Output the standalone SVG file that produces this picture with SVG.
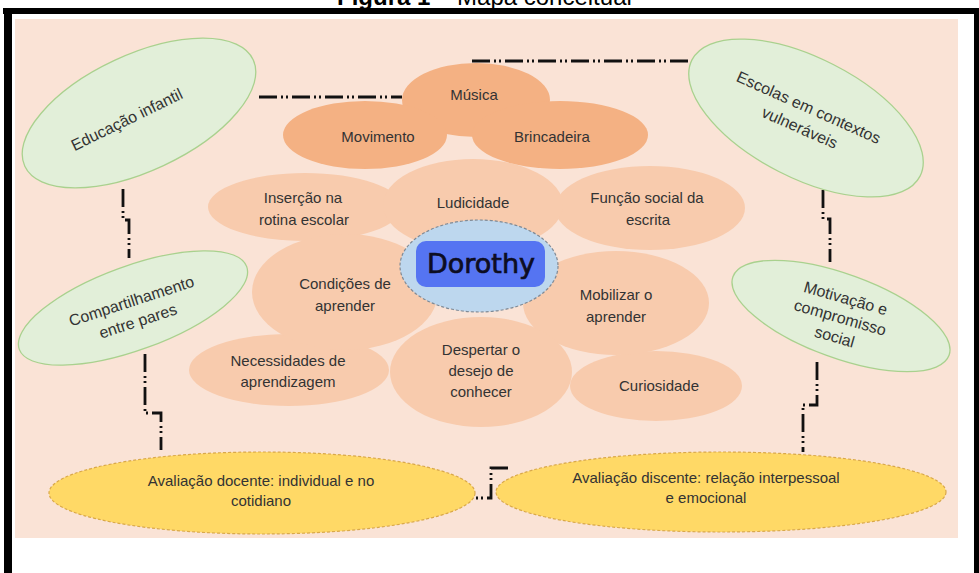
<svg xmlns="http://www.w3.org/2000/svg" width="979" height="573" viewBox="0 0 979 573">
<style>
  .t{font-family:"Liberation Sans",Arial,sans-serif;font-size:15px;fill:#333;text-anchor:middle}
  .g{font-family:"Liberation Sans",Arial,sans-serif;font-size:16px;fill:#333;text-anchor:middle}
  .lp{fill:#f8cbad}
  .dk{fill:#f4b183}
  .gr{fill:#e2efd9;stroke:#a9d18e;stroke-width:1.3}
  .yl{fill:#ffd966;stroke:#d9a84a;stroke-width:1.2;stroke-dasharray:3 2}
  .cn{fill:none;stroke:#111;stroke-width:2.8;stroke-dasharray:18 4 2 3 2 4}
</style>
<rect x="0" y="0" width="979" height="573" fill="#fff"/>
<text x="337" y="5" font-family="Liberation Sans,Arial,sans-serif" font-size="24" fill="#000"><tspan font-weight="bold">Figura 1</tspan> –  Mapa conceitual</text>
<g id="frame" fill="#000">
  <rect x="3" y="8" width="976" height="6"/>
  <rect x="4" y="8" width="8" height="565"/>
  <rect x="974" y="8" width="5" height="565"/>
</g>
<rect x="15" y="19" width="943" height="519" fill="#fae3d6"/>

<g id="connectors">
  <path class="cn" d="M259,97 H402"/>
  <path class="cn" d="M472,61 H690"/>
  <path class="cn" d="M123,189 V220 H129 V258"/>
  <path class="cn" d="M145,354 V413 H161 V450"/>
  <path class="cn" d="M823,190 V219 H830 V262"/>
  <path class="cn" d="M817,362 V405 H803 V452"/>
  <path class="cn" d="M508,468 H491 V498 H475"/>
</g>

<g id="educacao-infantil">
  <ellipse class="gr" cx="139" cy="113" rx="126" ry="58" transform="rotate(-25 139 113)"/>
  <text class="g" transform="translate(127,120) rotate(-26)" x="0" y="5">Educação infantil</text>
</g>
<g id="escolas">
  <ellipse class="gr" cx="806" cy="118" rx="128" ry="60" transform="rotate(27 806 118)"/>
  <g transform="translate(804,118) rotate(24)">
    <text class="g" x="0" y="-6">Escolas em contextos</text>
    <text class="g" x="0" y="16">vulneráveis</text>
  </g>
</g>
<g id="compartilhamento">
  <ellipse class="gr" cx="133" cy="308" rx="121" ry="42" transform="rotate(-20 133 308)"/>
  <g transform="translate(135,312) rotate(-18)">
    <text class="g" x="0" y="-6">Compartilhamento</text>
    <text class="g" x="0" y="15">entre pares</text>
  </g>
</g>
<g id="motivacao">
  <ellipse class="gr" cx="841" cy="316" rx="115" ry="42" transform="rotate(20 841 316)"/>
  <g transform="translate(840,318) rotate(16)">
    <text class="g" x="0" y="-15">Motivação e</text>
    <text class="g" x="0" y="5">compromisso</text>
    <text class="g" x="0" y="25">social</text>
  </g>
</g>

<g id="insercao"><ellipse class="lp" cx="305" cy="207" rx="97" ry="34"/></g>
<g id="funcao"><ellipse class="lp" cx="650" cy="208" rx="95" ry="42"/></g>
<g id="ludicidade"><ellipse class="lp" cx="473" cy="205" rx="90" ry="46"/></g>
<g id="necessidades"><ellipse class="lp" cx="289" cy="370" rx="100" ry="36"/></g>
<g id="curiosidade"><ellipse class="lp" cx="656" cy="386" rx="86" ry="35"/></g>
<g id="condicoes"><ellipse class="lp" cx="345" cy="292" rx="93" ry="58"/></g>
<g id="mobilizar"><ellipse class="lp" cx="616" cy="303" rx="93" ry="52"/></g>
<g id="despertar"><ellipse class="lp" cx="481" cy="372" rx="91" ry="55"/></g>

<g id="musica"><ellipse class="dk" cx="476" cy="100" rx="74" ry="37"/></g>
<g id="movimento"><ellipse class="dk" cx="365" cy="135" rx="82" ry="34"/></g>
<g id="brincadeira"><ellipse class="dk" cx="560" cy="135" rx="88" ry="34"/></g>

<g id="labels">
  <text class="t" x="474" y="100">Música</text>
  <text class="t" x="378" y="142">Movimento</text>
  <text class="t" x="552" y="142">Brincadeira</text>
  <text class="t" x="473" y="208">Ludicidade</text>
  <text class="t" x="303" y="203">Inserção na</text>
  <text class="t" x="304" y="225">rotina  escolar</text>
  <text class="t" x="647" y="203">Função social da</text>
  <text class="t" x="648" y="225">escrita</text>
  <text class="t" x="345" y="289">Condições de</text>
  <text class="t" x="345" y="311">aprender</text>
  <text class="t" x="616" y="300">Mobilizar o</text>
  <text class="t" x="616" y="322">aprender</text>
  <text class="t" x="288" y="366">Necessidades de</text>
  <text class="t" x="288" y="387">aprendizagem</text>
  <text class="t" x="481" y="355">Despertar o</text>
  <text class="t" x="481" y="376">desejo de</text>
  <text class="t" x="481" y="397">conhecer</text>
  <text class="t" x="659" y="391">Curiosidade</text>
</g>

<g id="dorothy">
  <ellipse cx="479" cy="266" rx="79" ry="46" fill="#bdd7ee" stroke="#7f8a96" stroke-width="1.2" stroke-dasharray="3 2"/>
  <rect x="416" y="241" width="129" height="46" rx="10" fill="#5574f2"/>
  <text x="481" y="273" font-family="DejaVu Sans,sans-serif" font-size="27" fill="#0d0d22" stroke="#0d0d22" stroke-width="0.7" text-anchor="middle">Dorothy</text>
</g>

<g id="avaliacao-docente">
  <ellipse class="yl" cx="262" cy="493" rx="213" ry="41"/>
  <text class="t" x="261" y="486">Avaliação docente: individual e no</text>
  <text class="t" x="261" y="506">cotidiano</text>
</g>
<g id="avaliacao-discente">
  <ellipse class="yl" cx="721" cy="492" rx="225" ry="40"/>
  <text class="t" x="706" y="483">Avaliação discente: relação interpessoal</text>
  <text class="t" x="706" y="503">e emocional</text>
</g>
</svg>
